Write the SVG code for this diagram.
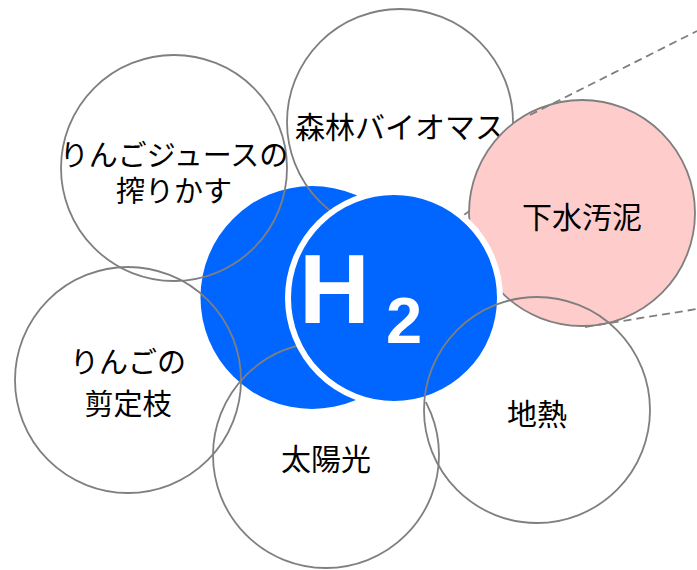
<svg xmlns="http://www.w3.org/2000/svg" width="697" height="570" viewBox="0 0 697 570">
<style>
.ring{fill:none;stroke:#7f7f7f;stroke-width:1.8}
.lbl{font-family:"Noto Sans CJK JP","Noto Sans",sans-serif;font-size:30px;fill:#000;text-anchor:middle}
.two{font-size:29px}
.dash{stroke:#7f7f7f;stroke-width:1.8;stroke-dasharray:8 5;fill:none}
.h2{font-family:"Liberation Sans",Arial,sans-serif;font-weight:bold;fill:#fff}
</style>
<rect width="697" height="570" fill="#fff"/>
<g id="h-left"><circle cx="312" cy="297.5" r="111.5" fill="#0066ff"/></g>
<g id="apple-juice"><circle class="ring" cx="174" cy="168" r="113"/><text class="lbl two" x="174" y="166"><tspan x="174" y="166">りんごジュースの</tspan><tspan x="174" y="202">搾りかす</tspan></text></g>
<g id="apple-prune"><circle class="ring" cx="128" cy="380" r="113"/><text class="lbl two" x="128" y="373"><tspan x="128" y="373">りんごの</tspan><tspan x="128" y="415">剪定枝</tspan></text></g>
<g id="solar"><circle class="ring" cx="326" cy="455" r="113"/><text class="lbl" x="326" y="470">太陽光</text></g>
<g id="forest"><circle class="ring" cx="400" cy="122" r="113"/><text class="lbl" x="400" y="138">森林バイオマス</text></g>
<g id="sewage"><circle cx="582" cy="213" r="113" fill="#ffcccc" stroke="#7f7f7f" stroke-width="1.8"/><text class="lbl" x="582" y="228">下水汚泥</text></g>
<g id="connectors">
<line class="dash" x1="530" y1="115" x2="697" y2="31"/>
<line class="dash" x1="585" y1="327" x2="697" y2="309"/>
</g>
<g id="h-right"><circle cx="394" cy="298" r="106" fill="#0066ff" stroke="#fff" stroke-width="6"/><text class="h2" x="299" y="323" font-size="98">H</text><text class="h2" x="386" y="343" font-size="65">2</text></g>
<g id="geothermal"><circle class="ring" cx="537" cy="410" r="113"/><text class="lbl" x="537" y="425">地熱</text></g>
</svg>
